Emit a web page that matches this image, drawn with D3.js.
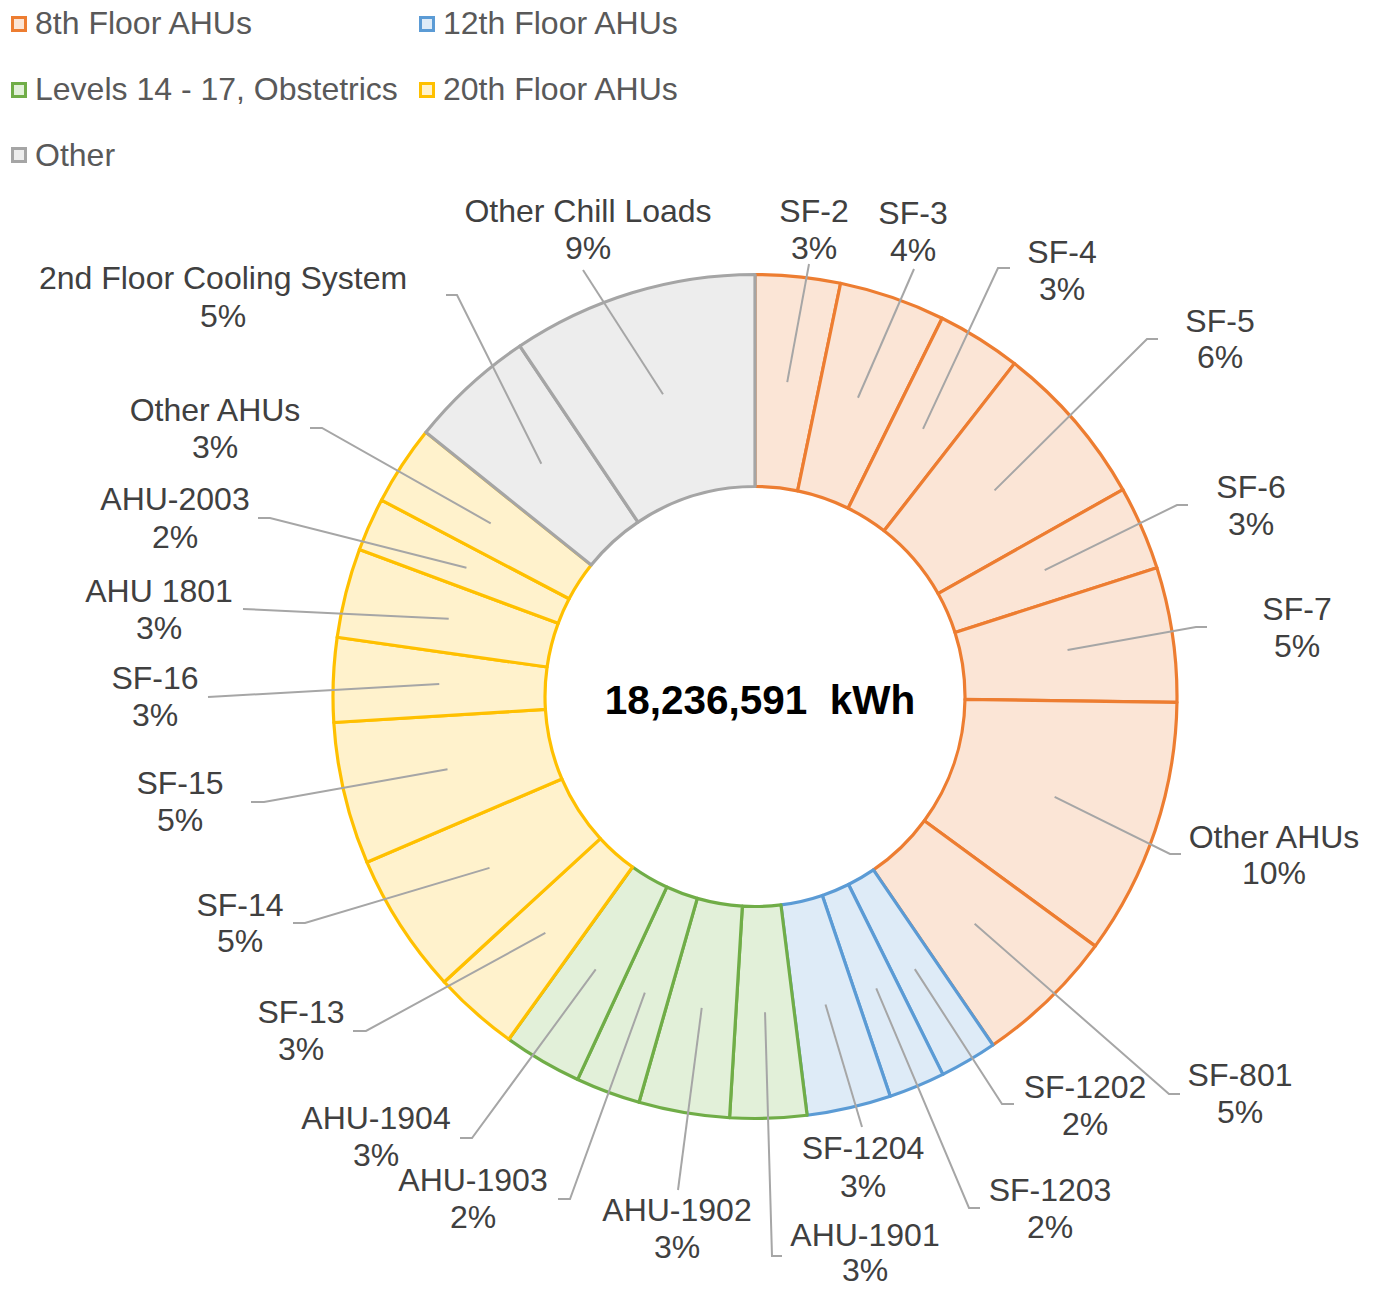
<!DOCTYPE html>
<html>
<head>
<meta charset="utf-8">
<script src="https://cdn.jsdelivr.net/npm/d3@7"></script>
<style>
  html, body { margin: 0; padding: 0; background: #ffffff; }
  svg { display: block; }
</style>
</head>
<body>
<svg id="chart" width="1376" height="1289"></svg>
<script>
// ---------- DATA ----------
const totalLabel = "18,236,591  kWh";
const groupNames = ["8th Floor AHUs", "12th Floor AHUs", "Levels 14 - 17, Obstetrics", "20th Floor AHUs", "Other"];
const categories = [
  "SF-2", "SF-3", "SF-4", "SF-5", "SF-6", "SF-7", "Other AHUs", "SF-801",
  "SF-1202", "SF-1203", "SF-1204",
  "AHU-1901", "AHU-1902", "AHU-1903", "AHU-1904",
  "SF-13", "SF-14", "SF-15", "SF-16", "AHU 1801", "AHU-2003", "Other AHUs",
  "2nd Floor Cooling System", "Other Chill Loads"
];
const categoryGroup = [
  0, 0, 0, 0, 0, 0, 0, 0,
  1, 1, 1,
  2, 2, 2, 2,
  3, 3, 3, 3, 3, 3, 3,
  4, 4
];
// share of total energy, percent
const shares = [
  3.25, 4.06, 3.22, 6.31, 3.22, 5.15, 9.85, 5.39,
  2.19, 2.15, 3.22,
  2.93, 3.47, 2.47, 3.01,
  3.26, 5.40, 5.44, 3.22, 3.42, 2.04, 3.06,
  4.83, 9.40
];

// ---------- STYLE / LAYOUT ----------
const groupStroke = ["#ED7D31", "#5B9BD5", "#70AD47", "#FFC000", "#A5A5A5"];
const groupFill   = ["#FBE5D6", "#DEEBF7", "#E2F0D9", "#FFF2CC", "#EDEDED"];
const cx = 755, cy = 696.5, rOuter = 422, rInner = 210;
const fontFamily = "'Liberation Sans', Arial, Helvetica, sans-serif";

// label layout: [text centre x, name baseline y, percent baseline y], leader points after centroid
const labelLayout = [
  [814, 222, 259, [[809, 264]]],
  [913, 224, 261, [[914, 269]]],
  [1062, 263, 300, [[998, 268], [1010, 268]]],
  [1220, 332, 368, [[1147, 339], [1158, 339]]],
  [1251, 498, 535, [[1177, 505], [1188, 505]]],
  [1297, 620, 657, [[1196, 627], [1207, 627]]],
  [1274, 848, 884, [[1170, 854], [1181, 854]]],
  [1240, 1086, 1123, [[1169, 1094], [1180, 1094]]],
  [1085, 1098, 1135, [[1002, 1104], [1014, 1104]]],
  [1050, 1201, 1238, [[969, 1208], [980, 1208]]],
  [863, 1159, 1197, [[862, 1127]]],
  [865, 1246, 1281, [[772, 1256], [782, 1256]]],
  [677, 1221, 1258, [[678, 1190]]],
  [473, 1191, 1228, [[570, 1199], [558, 1199]]],
  [376, 1129, 1166, [[472, 1138], [460, 1138]]],
  [301, 1023, 1060, [[366, 1031], [353, 1031]]],
  [240, 916, 952, [[305, 923], [293, 923]]],
  [180, 794, 831, [[264, 802], [251, 802]]],
  [155, 689, 726, [[208, 697]]],
  [159, 602, 639, [[243, 609]]],
  [175, 510, 548, [[270, 518], [258, 518]]],
  [215, 421, 458, [[322, 428], [310, 428]]],
  [223, 289, 327, [[457, 295], [446, 295]]],
  [588, 222, 259, [[583, 270]]]
];

// ---------- DRAW ----------
const svg = d3.select("#chart");
svg.append("rect").attr("width", 1376).attr("height", 1289).attr("fill", "#ffffff");

const data = categories.map((c, i) => ({ name: c, value: shares[i], group: categoryGroup[i], idx: i }));
const total = d3.sum(shares);
const pct = d3.format(".0%");

const pie = d3.pie().sort(null).value(d => d.value).startAngle(0).endAngle(2 * Math.PI);
const arc = d3.arc().innerRadius(rInner).outerRadius(rOuter);
const arcs = pie(data);

const g = svg.append("g").attr("transform", `translate(${cx},${cy})`);
g.selectAll("path.slice")
  .data(arcs)
  .join("path")
  .attr("class", "slice")
  .attr("d", arc)
  .attr("fill", d => groupFill[d.data.group])
  .attr("stroke", d => groupStroke[d.data.group])
  .attr("stroke-width", 3.2)
  .attr("stroke-linejoin", "round");

// leader lines
const line = d3.line();
svg.append("g").selectAll("path.leader")
  .data(arcs)
  .join("path")
  .attr("class", "leader")
  .attr("d", d => {
    const c = arc.centroid(d);
    const pts = [[cx + c[0], cy + c[1]]].concat(labelLayout[d.index][3]);
    return line(pts);
  })
  .attr("fill", "none")
  .attr("stroke", "#A6A6A6")
  .attr("stroke-width", 2);

// labels
const lab = svg.append("g")
  .attr("font-family", fontFamily)
  .attr("font-size", 32)
  .attr("fill", "#404040")
  .attr("text-anchor", "middle");
arcs.forEach(d => {
  const L = labelLayout[d.index];
  lab.append("text").attr("x", L[0]).attr("y", L[1]).text(d.data.name);
  lab.append("text").attr("x", L[0]).attr("y", L[2]).text(pct(d.data.value / total));
});

// centre total
svg.append("text")
  .attr("x", 760).attr("y", 714)
  .attr("text-anchor", "middle")
  .attr("font-family", fontFamily)
  .attr("font-size", 40.5)
  .attr("font-weight", "bold")
  .attr("fill", "#000000")
  .style("white-space", "pre")
  .text(totalLabel);

// legend
const legendPos = [[11, 16, 34], [419, 16, 34], [11, 82, 100], [419, 82, 100], [11, 147, 166]];
const leg = svg.append("g").attr("font-family", fontFamily).attr("font-size", 32).attr("fill", "#595959");
groupNames.forEach((n, i) => {
  const p = legendPos[i];
  leg.append("rect")
    .attr("x", p[0] + 1.5).attr("y", p[1] + 1.5)
    .attr("width", 13).attr("height", 13)
    .attr("fill", groupFill[i])
    .attr("stroke", groupStroke[i])
    .attr("stroke-width", 3);
  leg.append("text").attr("x", p[0] + 24).attr("y", p[2]).text(n);
});
</script>
</body>
</html>
